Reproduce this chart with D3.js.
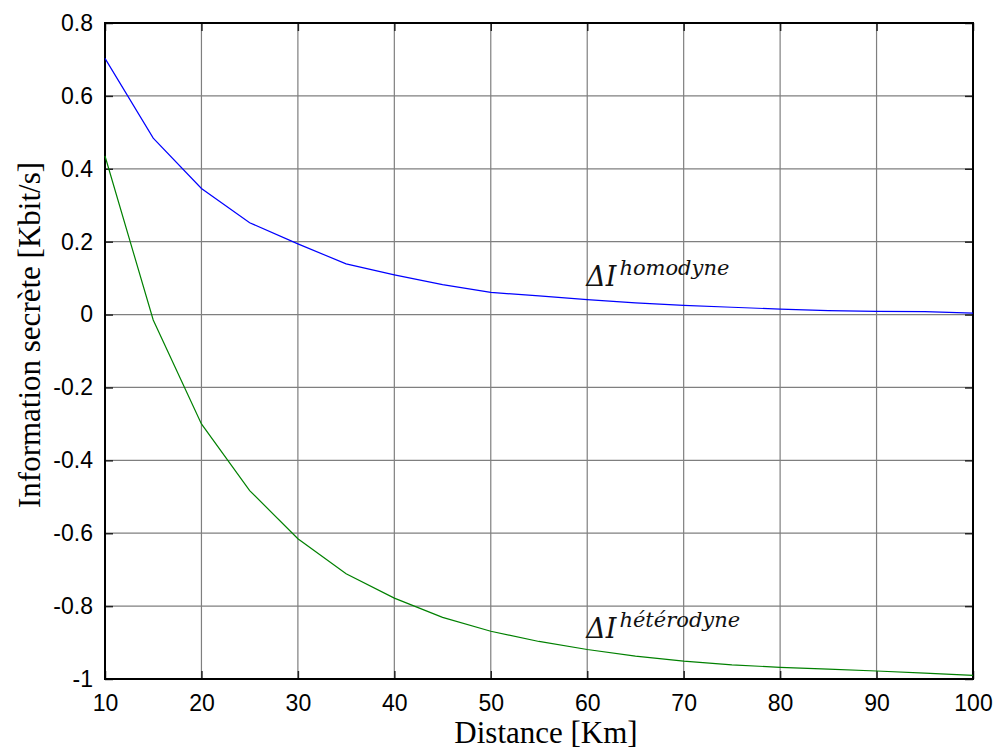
<!DOCTYPE html>
<html>
<head>
<meta charset="utf-8">
<script src="https://cdn.jsdelivr.net/npm/d3@7"></script>
<style>
  body { margin: 0; background: #fff; }
  svg { display: block; }
</style>
</head>
<body>
<script>
var width = 995,
    height = 751;

// distances in Km
var distances = [10, 15, 20, 25, 30, 35, 40, 45, 50, 55, 60, 65, 70, 75, 80, 85, 90, 95, 100];
// secret information, homodyne detection
var homodyne = [0.703, 0.484, 0.346, 0.252, 0.194, 0.139, 0.109, 0.082, 0.061, 0.051, 0.041, 0.032, 0.025, 0.020, 0.015, 0.011, 0.009, 0.008, 0.004];
// secret information, heterodyne detection
var heterodyne = [0.435, -0.015, -0.300, -0.483, -0.615, -0.711, -0.778, -0.831, -0.869, -0.897, -0.919, -0.937, -0.951, -0.961, -0.968, -0.973, -0.978, -0.984, -0.990];

var xTicks = [10, 20, 30, 40, 50, 60, 70, 80, 90, 100];
var yTicks = [0.8, 0.6, 0.4, 0.2, 0, -0.2, -0.4, -0.6, -0.8, -1];

var margin = {top: 23, right: 22, bottom: 72, left: 105},
    innerW = width - margin.left - margin.right,
    innerH = height - margin.top - margin.bottom;

var svg = d3.select("body").append("svg")
    .attr("width", width)
    .attr("height", height);

var g = svg.append("g")
    .attr("transform", "translate(" + margin.left + "," + margin.top + ")");

var x = d3.scaleLinear().domain([10, 100]).range([0, innerW]);
var y = d3.scaleLinear().domain([-1, 0.8]).range([innerH, 0]);

// grid
g.append("g").selectAll("line")
    .data(xTicks)
  .enter().append("line")
    .attr("x1", function(d) { return x(d); })
    .attr("x2", function(d) { return x(d); })
    .attr("y1", 0)
    .attr("y2", innerH)
    .attr("stroke", "#7f7f7f")
    .attr("stroke-width", 1.2);

g.append("g").selectAll("line")
    .data(yTicks)
  .enter().append("line")
    .attr("x1", 0)
    .attr("x2", innerW)
    .attr("y1", function(d) { return y(d); })
    .attr("y2", function(d) { return y(d); })
    .attr("stroke", "#7f7f7f")
    .attr("stroke-width", 1.2);

// MATLAB-like labels: plain hyphen, no trailing zeros
var fmt = function(d) { return String(d); };

g.append("g")
    .attr("transform", "translate(0," + innerH + ")")
    .call(d3.axisBottom(x).tickValues(xTicks).tickSizeInner(-8).tickSizeOuter(0).tickPadding(16).tickFormat(fmt));

g.append("g")
    .call(d3.axisLeft(y).tickValues(yTicks).tickSizeInner(-8).tickSizeOuter(0).tickPadding(12).tickFormat(fmt));

g.append("g")
    .call(d3.axisTop(x).tickValues(xTicks).tickSizeInner(-8).tickSizeOuter(0).tickFormat(""));

g.append("g")
    .attr("transform", "translate(" + innerW + ",0)")
    .call(d3.axisRight(y).tickValues(yTicks).tickSizeInner(-8).tickSizeOuter(0).tickFormat(""));

g.selectAll(".domain").remove();
g.selectAll(".tick line").attr("stroke", "#222").attr("stroke-width", 1.5);
g.selectAll(".tick text")
    .attr("fill", "#000")
    .style("font-family", "Liberation Sans, Arial, sans-serif")
    .style("font-size", "23px");

// box
g.append("rect")
    .attr("width", innerW)
    .attr("height", innerH)
    .attr("fill", "none")
    .attr("stroke", "#000")
    .attr("stroke-width", 2);

// curves
var line = d3.line()
    .x(function(d) { return x(d[0]); })
    .y(function(d) { return y(d[1]); });

g.append("path")
    .datum(d3.zip(distances, homodyne))
    .attr("fill", "none")
    .attr("stroke", "#0000ff")
    .attr("stroke-width", 1.2)
    .attr("d", line);

g.append("path")
    .datum(d3.zip(distances, heterodyne))
    .attr("fill", "none")
    .attr("stroke", "#008000")
    .attr("stroke-width", 1.2)
    .attr("d", line);

// curve labels
function curveLabel(xv, yv, sup) {
  var t = g.append("text")
      .attr("x", x(xv) - 1)
      .attr("y", y(yv))
      .style("font-family", "DejaVu Serif, serif")
      .style("font-style", "italic")
      .attr("fill", "#111");
  t.append("tspan").style("font-size", "27px").text("\u0394I");
  t.append("tspan").attr("dy", -11).attr("dx", 3).style("font-size", "21px").text(sup);
}
curveLabel(60, 0.078, "homodyne");
curveLabel(60, -0.888, "hétérodyne");

// axis titles
svg.append("text")
    .attr("x", 546)
    .attr("y", 743)
    .attr("text-anchor", "middle")
    .style("font-family", "Liberation Serif, Times New Roman, serif")
    .style("font-size", "31px")
    .text("Distance [Km]");

svg.append("text")
    .attr("transform", "translate(40,335)rotate(-90)")
    .attr("text-anchor", "middle")
    .style("font-family", "Liberation Serif, Times New Roman, serif")
    .style("font-size", "31px")
    .text("Information secrète [Kbit/s]");
</script>
</body>
</html>
